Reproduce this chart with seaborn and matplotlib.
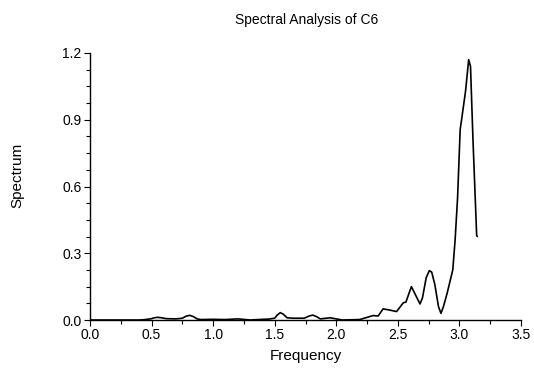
import matplotlib
matplotlib.use("Agg")
import matplotlib.pyplot as plt
import seaborn as sns
import pandas as pd
from matplotlib.ticker import MultipleLocator

sns.set_theme(style="white")
plt.rcParams['font.family'] = ['Liberation Sans', 'DejaVu Sans']

frequency = [0.0, 0.2, 0.4, 0.45, 0.5, 0.52, 0.55, 0.58, 0.62, 0.7, 0.75, 0.78, 0.81,
             0.84, 0.87, 0.9, 1.0, 1.1, 1.2, 1.3, 1.4, 1.45, 1.5, 1.52, 1.545, 1.57,
             1.6, 1.65, 1.74, 1.78, 1.81, 1.84, 1.87, 1.95, 2.05, 2.19, 2.30, 2.34,
             2.38, 2.43, 2.49, 2.545, 2.565, 2.61, 2.68, 2.70, 2.73, 2.756, 2.775,
             2.80, 2.83, 2.85, 2.87, 2.90, 2.946, 2.965, 2.985, 3.006, 3.02, 3.05,
             3.075, 3.09, 3.11, 3.14, 3.145]
spectrum = [0.0, 0.0, 0.0, 0.002, 0.006, 0.01, 0.012, 0.01, 0.006, 0.005, 0.008, 0.017,
            0.021, 0.015, 0.005, 0.002, 0.003, 0.002, 0.005, 0.0, 0.003, 0.004, 0.008,
            0.022, 0.033, 0.026, 0.01, 0.008, 0.008, 0.018, 0.022, 0.015, 0.005, 0.01,
            0.0, 0.002, 0.02, 0.018, 0.05, 0.045, 0.038, 0.078, 0.08, 0.15, 0.072,
            0.10, 0.19, 0.222, 0.215, 0.16, 0.06, 0.03, 0.06, 0.12, 0.225, 0.36, 0.55,
            0.856, 0.91, 1.03, 1.17, 1.14, 0.81, 0.38, 0.375]

df = pd.DataFrame({"Frequency": frequency, "Spectrum": spectrum})

fig = plt.figure(figsize=(5.34, 3.69), dpi=100)
ax = fig.add_axes([90/534, 1-320/369, (521-90)/534, (320-53)/369])
sns.lineplot(data=df, x="Frequency", y="Spectrum", ax=ax, color="black", linewidth=1.2)

ax.set_xlim(0, 3.5)
ax.set_ylim(0, 1.2)
ax.xaxis.set_major_locator(MultipleLocator(0.5))
ax.xaxis.set_minor_locator(MultipleLocator(0.25))
ax.yaxis.set_major_locator(MultipleLocator(0.3))
ax.yaxis.set_minor_locator(MultipleLocator(0.075))
ax.xaxis.set_major_formatter(plt.FormatStrFormatter('%.1f'))
ax.yaxis.set_major_formatter(plt.FormatStrFormatter('%.1f'))

for s in ["top", "right"]:
    ax.spines[s].set_visible(False)
for s in ["left", "bottom"]:
    ax.spines[s].set_color("black")
    ax.spines[s].set_linewidth(1.0)

ax.tick_params(axis="both", which="major", direction="out", length=4, width=0.8,
               color="black", labelsize=10, labelcolor="black", pad=2,
               bottom=True, left=True)
ax.tick_params(axis="both", which="minor", direction="out", length=3, width=0.8,
               color="black", bottom=True, left=True)

ax.set_xlabel("Frequency", fontsize=11, color="black", labelpad=5)
ax.set_ylabel("")
fig.text(17/534, 1-175/369, "Spectrum", rotation=90, ha="center", va="center",
         fontsize=11, color="black")
fig.text(307/534, 1-20/369, "Spectral Analysis of C6", ha="center", va="center",
         fontsize=10, color="black")

fig.savefig("out.png", dpi=100)
